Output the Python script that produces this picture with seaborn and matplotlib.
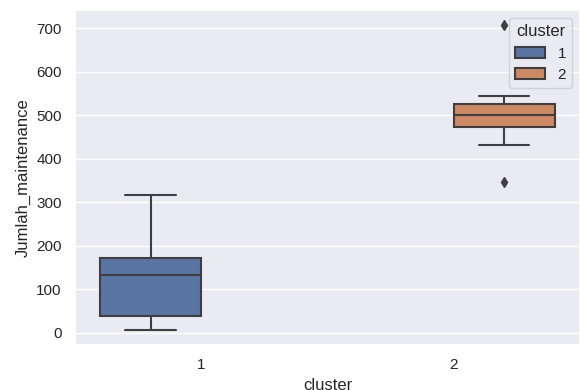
import numpy as np
import pandas as pd
import matplotlib
matplotlib.use("Agg")
import matplotlib.pyplot as plt
import seaborn as sns

# values per cluster
cluster_1 = [7, 38, 133, 172, 318]
cluster_2 = [347, 432, 474, 488, 500, 513, 526, 545, 707]

df = pd.DataFrame({
    "cluster": [1] * len(cluster_1) + [2] * len(cluster_2),
    "Jumlah_maintenance": cluster_1 + cluster_2,
})

sns.set_theme(style="darkgrid")
plt.rcParams["font.family"] = ["Liberation Sans", "DejaVu Sans"]

fig, ax = plt.subplots(figsize=(5.81, 3.9), dpi=100)
fig.subplots_adjust(left=0.129, right=0.998, top=0.974, bottom=0.115)

gray = "#3f3f3f"
sns.boxplot(data=df, x="cluster", y="Jumlah_maintenance", hue="cluster",
            palette="deep", dodge=True, width=0.8, linewidth=1.5,
            linecolor=gray,
            flierprops=dict(marker="d", markerfacecolor=gray,
                            markeredgecolor=gray, markersize=5),
            ax=ax)

ax.legend(title="cluster", loc="upper right",
          handles=ax.get_legend().legend_handles,
          labels=["1", "2"])

fig.savefig("out.png", dpi=100)
